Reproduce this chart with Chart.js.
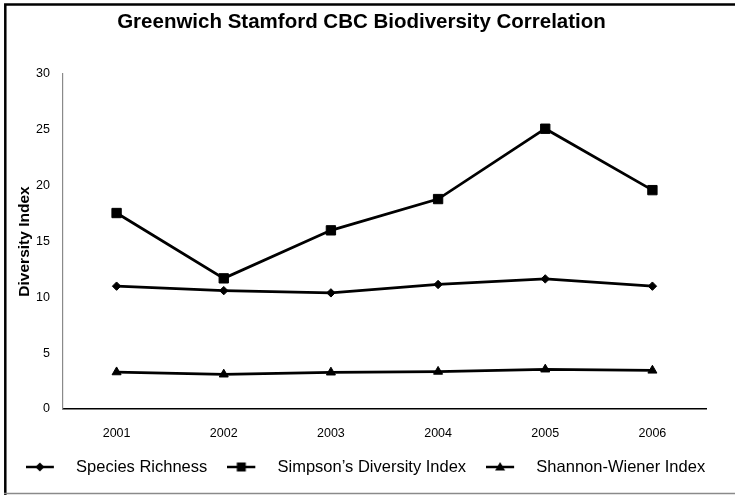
<!DOCTYPE html>
<html>
<head>
<meta charset="utf-8">
<title>Greenwich Stamford CBC Biodiversity Correlation</title>
<script src="https://cdn.jsdelivr.net/npm/chart.js@4.4.1/dist/chart.umd.min.js"></script>
<style>
  html, body { margin: 0; padding: 0; background: #fff; }
  #wrap { width: 735px; height: 495px; }
</style>
</head>
<body>
<div id="wrap"><canvas id="chart" width="735" height="495"></canvas></div>
<script>
// Christmas Bird Count survey years
const years = ['2001', '2002', '2003', '2004', '2005', '2006'];

// Index values per year
const speciesRichness = [11.0, 10.6, 10.4, 11.15, 11.65, 11.0];
const simpsonIndex    = [17.55, 11.7, 16.0, 18.8, 25.1, 19.6];
const shannonIndex    = [3.3, 3.1, 3.28, 3.35, 3.55, 3.45];

// Value axis
const yMin = 0;
const yMax = 30;
const yStep = 5;

const FONT = '"Liberation Sans", Arial, Helvetica, sans-serif';
Chart.defaults.font.family = FONT;
Chart.defaults.color = '#000';

// Small line-with-marker swatch used as the legend symbol
function legendIcon(style) {
  const c = document.createElement('canvas');
  c.width = 34; c.height = 16;
  const g = c.getContext('2d');
  g.strokeStyle = '#000';
  g.fillStyle = '#000';
  g.lineWidth = 2.5;
  g.beginPath(); g.moveTo(0, 8); g.lineTo(28, 8); g.stroke();
  g.beginPath();
  if (style === 'rect') {
    g.rect(9.5, 3.5, 9, 9);
  } else if (style === 'rectRot') {
    g.moveTo(14, 3.5); g.lineTo(18.5, 8); g.lineTo(14, 12.5); g.lineTo(9.5, 8); g.closePath();
  } else {
    g.moveTo(14, 3); g.lineTo(19, 11.5); g.lineTo(9, 11.5); g.closePath();
  }
  g.fill();
  return c;
}

// Outer frame of the chart panel
const framePlugin = {
  id: 'panelFrame',
  beforeDraw(chart) {
    const ctx = chart.ctx;
    ctx.save();
    ctx.fillStyle = '#fff';
    ctx.fillRect(0, 0, chart.width, chart.height);
    ctx.strokeStyle = '#000';
    ctx.lineWidth = 2.5;
    ctx.beginPath();
    ctx.moveTo(5.3, 495); ctx.lineTo(5.3, 4.5); ctx.lineTo(735, 4.5);
    ctx.stroke();
    ctx.strokeStyle = '#8a8a8a';
    ctx.lineWidth = 1.7;
    ctx.beginPath();
    ctx.moveTo(4, 493.5); ctx.lineTo(735, 493.5);
    ctx.stroke();
    ctx.restore();
  }
};

const common = {
  borderColor: '#000',
  backgroundColor: '#000',
  pointBackgroundColor: '#000',
  pointBorderColor: '#000',
  pointBorderWidth: 1,
  borderWidth: 2.75,
  tension: 0,
  fill: false
};

new Chart(document.getElementById('chart'), {
  type: 'line',
  data: {
    labels: years,
    datasets: [
      Object.assign({ label: 'Species Richness', data: speciesRichness, pointStyle: 'rectRot', pointRadius: 4.2 }, common),
      Object.assign({ label: 'Simpson\u2019s Diversity Index', data: simpsonIndex, pointStyle: 'rect', pointRadius: 6.6 }, common),
      Object.assign({ label: 'Shannon-Wiener Index', data: shannonIndex, pointStyle: 'triangle', pointRadius: 5.2 }, common)
    ]
  },
  options: {
    responsive: false,
    animation: false,
    devicePixelRatio: 1,
    layout: { padding: { left: 0, right: 12, top: 0, bottom: 9.75 } },
    plugins: {
      tooltip: { enabled: false },
      title: {
        display: true,
        text: 'Greenwich Stamford CBC Biodiversity Correlation',
        color: '#000',
        font: { family: FONT, size: 20.5, weight: 'bold' },
        padding: { top: 10.2, bottom: 39.2 }
      },
      legend: {
        display: true,
        position: 'bottom',
        labels: {
          usePointStyle: true,
          pointStyleWidth: 50,
          padding: 12,
          color: '#000',
          font: { family: FONT, size: 16.5 },
          generateLabels(chart) {
            return chart.data.datasets.map((ds, i) => ({
              text: ds.label,
              pointStyle: legendIcon(ds.pointStyle),
              fillStyle: '#000',
              strokeStyle: '#000',
              lineWidth: 0,
              hidden: false,
              datasetIndex: i,
              fontColor: '#000'
            }));
          }
        }
      }
    },
    scales: {
      x: {
        type: 'category',
        offset: true,
        grid: { display: false, drawTicks: false },
        border: { display: true, color: '#000', width: 1.5 },
        ticks: { color: '#000', font: { family: FONT, size: 12.5 }, padding: 17, maxRotation: 0 },
        afterFit(scale) { scale.height = 37.75; }
      },
      y: {
        type: 'linear',
        position: 'left',
        min: yMin,
        max: yMax,
        grid: { display: false, drawTicks: false },
        border: { display: true, color: '#8a8a8a', width: 1.2 },
        ticks: { stepSize: yStep, color: '#000', font: { family: FONT, size: 12.5 }, padding: 13 },
        title: {
          display: true,
          text: 'Diversity Index',
          color: '#000',
          font: { family: FONT, size: 15.5, weight: 'bold' },
          padding: { top: 15.7, bottom: 0 }
        },
        afterFit(scale) { scale.width = 63; }
      },
      yRight: {
        type: 'linear',
        position: 'right',
        display: true,
        grid: { display: false, drawTicks: false },
        border: { display: false },
        ticks: { display: false },
        afterFit(scale) { scale.width = 17; }
      }
    }
  },
  plugins: [framePlugin]
});
</script>
</body>
</html>
